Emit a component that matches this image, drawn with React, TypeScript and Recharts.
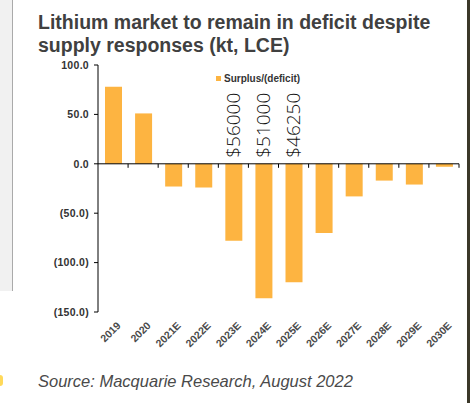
import React from "react";
import {
  BarChart,
  Bar,
  XAxis,
  YAxis,
  ReferenceLine,
  ReferenceDot,
} from "recharts";

const years = [
  "2019",
  "2020",
  "2021E",
  "2022E",
  "2023E",
  "2024E",
  "2025E",
  "2026E",
  "2027E",
  "2028E",
  "2029E",
  "2030E",
];
const surplus = [78, 51, -23, -24, -78, -136, -120, -70, -33, -17, -21, -3];
const priceNotes = ["", "", "", "", "$56000", "$51000", "$46250", "", "", "", "", ""];
const yTicks = [-150, -100, -50, 0, 50, 100];
const seriesName = "Surplus/(deficit)";

const BAR_COLOR = "#FDB441";
const FONT = "'Liberation Sans', Arial, sans-serif";

const data = years.map((year, i) => ({ year, surplus: surplus[i] }));

const fmtY = (v: number) =>
  v < 0 ? `(${Math.abs(v).toFixed(1)})` : v.toFixed(1);

const YearTick = (props: any) => {
  const { x, y, payload } = props;
  return (
    <g transform={`translate(${x + 3},${y + 1})`}>
      <text
        transform="rotate(-45)"
        textAnchor="end"
        dy="0.71em"
        fontSize={10.5}
        fontWeight="bold"
        fill="#4a4a4a"
        fontFamily={FONT}
      >
        {payload.value}
      </text>
    </g>
  );
};

// zero line with little tick marks between the categories
const ZeroLine = (props: any) => {
  const { x1, y1, x2 } = props;
  const step = (x2 - x1) / years.length;
  return (
    <g>
      <line x1={x1} y1={y1} x2={x2} y2={y1} stroke="#000" strokeWidth={1} />
      {years.map((_, i) => (
        <line
          key={i}
          x1={x1 + step * (i + 1)}
          x2={x1 + step * (i + 1)}
          y1={y1}
          y2={y1 + 4}
          stroke="#000"
        />
      ))}
    </g>
  );
};

export default function App() {
  return (
    <div
      style={{
        position: "absolute",
        left: 0,
        top: 0,
        width: 470,
        height: 403,
        background: "#fff",
        overflow: "hidden",
      }}
    >
      <div
        style={{
          position: "absolute",
          left: 0,
          top: 0,
          width: 12,
          height: 291,
          background: "#f1f1f1",
          borderRight: "1.5px solid #aaa",
        }}
      />
      <div
        style={{
          position: "absolute",
          left: -3,
          top: 375,
          width: 6,
          height: 11,
          borderRadius: 4,
          background: "#ffd95a",
        }}
      />
      <div
        style={{
          position: "absolute",
          left: 467,
          top: 0,
          width: 3,
          height: 403,
          background: "#3b3829",
        }}
      />
      <div
        style={{
          position: "absolute",
          left: 38,
          top: 11,
          fontFamily: FONT,
          fontSize: 19.5,
          lineHeight: "23px",
          fontWeight: "bold",
          color: "#404040",
          whiteSpace: "nowrap",
        }}
      >
        Lithium market to remain in deficit despite
        <br />
        supply responses (kt, LCE)
      </div>
      <div
        style={{
          position: "absolute",
          left: 216,
          top: 73,
          display: "flex",
          alignItems: "center",
          fontFamily: FONT,
          fontSize: 10,
          fontWeight: "bold",
          color: "#333",
          zIndex: 2,
        }}
      >
        <span
          style={{
            width: 5,
            height: 5,
            background: BAR_COLOR,
            marginRight: 3,
            display: "inline-block",
          }}
        />
        {seriesName}
      </div>
      <BarChart
        width={470}
        height={403}
        data={data}
        margin={{ top: 65, right: 11, left: 38, bottom: 31 }}
      >
        <XAxis
          dataKey="year"
          axisLine={false}
          tickLine={false}
          height={60}
          interval={0}
          tick={<YearTick />}
        />
        <YAxis
          width={60}
          domain={[-150, 100]}
          ticks={yTicks}
          tickFormatter={fmtY}
          axisLine={{ stroke: "#000" }}
          tickLine={{ stroke: "#000" }}
          tickSize={4}
          tickMargin={5}
          tick={{
            fontSize: 10.5,
            fontWeight: "bold",
            fill: "#333",
            fontFamily: FONT,
            letterSpacing: 0.3,
          }}
        />
        <Bar
          dataKey="surplus"
          name={seriesName}
          fill={BAR_COLOR}
          barSize={17}
          isAnimationActive={false}
        />
        <ReferenceLine y={0} shape={<ZeroLine />} />
        {years.map((year, i) =>
          priceNotes[i] ? (
            <ReferenceDot
              key={year}
              x={year}
              y={0}
              r={0}
              shape={(p: any) => (
                <text
                  transform={`rotate(-90 ${p.cx} ${p.cy - 6})`}
                  x={p.cx}
                  y={p.cy - 6}
                  dy="0.36em"
                  textAnchor="start"
                  fontSize={19}
                  fontFamily="'Open Sans', 'DejaVu Sans', sans-serif"
                  fontWeight={300}
                  fill="#111"
                >
                  {priceNotes[i]}
                </text>
              )}
            />
          ) : null
        )}
      </BarChart>
      <div
        style={{
          position: "absolute",
          left: 38,
          top: 372,
          fontFamily: FONT,
          fontSize: 16.5,
          lineHeight: "19px",
          fontStyle: "italic",
          color: "#4a4a4a",
          whiteSpace: "nowrap",
        }}
      >
        Source: Macquarie Research, August 2022
      </div>
    </div>
  );
}
